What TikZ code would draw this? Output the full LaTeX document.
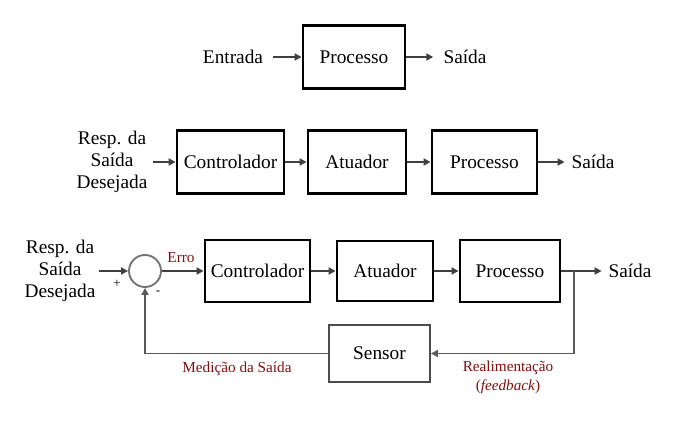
\documentclass[tikz,border=0pt]{standalone}
\usepackage{fontspec}
\setmainfont{Liberation Serif}
\usetikzlibrary{arrows.meta}
\definecolor{lblred}{RGB}{128,16,16}
\tikzset{
  blk/.style={draw=black, line width=2.4pt, minimum height=1.89cm, font=\fontsize{16.5}{19}\selectfont},
  txt/.style={inner sep=0pt, align=center, font=\fontsize{16.5}{18.7}\selectfont},
  flow/.style={-{Triangle[length=6pt,width=6pt]}, draw=black!75, line width=2pt},
  fb/.style={-{Triangle[length=6pt,width=6pt]}, draw=black!65, line width=1.6pt},
  redlbl/.style={text=lblred, inner sep=0pt, align=center, font=\fontsize{13}{16.2}\selectfont}
}
\begin{document}
\begin{tikzpicture}[x=0.03cm, y=-0.03cm]
		\useasboundingbox (0,0) rectangle (688,421);

		% open loop, one block
		\node[blk, minimum width=3.06cm] (proc1) at (354,57) {Processo};
		\node[txt] (in1) at (233,57) {Entrada};
		\node[txt] (out1) at (465,57) {Saída};
		\draw[flow] ([xshift=0.3cm]in1.east) -- (proc1.west);
		\draw[flow] (proc1.east) -- ([xshift=-0.3cm]out1.west);

		% open loop, three blocks
		\node[txt] (in2) at (112,162) {Resp. da\\Saída\\Desejada};
		\node[blk, minimum width=3.21cm] (ctrl2) at (230.5,162) {Controlador};
		\node[blk, minimum width=2.94cm] (act2) at (357,162) {Atuador};
		\node[blk, minimum width=3.15cm] (proc2) at (484.5,162) {Processo};
		\node[txt] (out2) at (593,162) {Saída};
		\draw[flow] ([xshift=0.15cm]in2.east) -- (ctrl2.west);
		\draw[flow] (ctrl2.east) -- (act2.west);
		\draw[flow] (act2.east) -- (proc2.west);
		\draw[flow] (proc2.east) -- ([xshift=-0.2cm]out2.west);

		% closed loop
		\node[txt] (in3) at (60,271) {Resp. da\\Saída\\Desejada};
		\node[circle, draw=black!55, line width=1.6pt, minimum size=0.96cm, inner sep=0pt] (sum) at (145,271) {};
		\node[blk, minimum width=3.15cm, minimum height=1.86cm] (ctrl3) at (257.5,271) {Controlador};
		\node[blk, minimum width=2.88cm, minimum height=1.8cm] (act3) at (385,271) {Atuador};
		\node[blk, minimum width=3cm, minimum height=1.86cm] (proc3) at (510,271) {Processo};
		\node[txt] (out3) at (630,271) {Saída};
		\node[draw=black!70, line width=1.6pt, minimum width=3.03cm, minimum height=1.71cm, font=\fontsize{16.5}{19}\selectfont] (sen) at (379.5,353.5) {Sensor};
		\coordinate (br) at (574,271);

		\draw[flow] ([xshift=0.1cm]in3.east) -- (sum.west);
		\draw[flow] (sum.east) -- (ctrl3.west);
		\draw[flow] (ctrl3.east) -- (act3.west);
		\draw[flow] (act3.east) -- (proc3.west);
		\draw[flow] (proc3.east) -- ([xshift=-0.2cm]out3.west);
		\draw[fb] (br) |- (sen.east);
		\draw[fb] (sen.west) -| (sum.south);

		\node[redlbl] (erro) at (181,258) {Erro};
		\node[redlbl] (med) at (237,369) {Medição da Saída};
		\node[redlbl] (real) at (508,377) {Realimentação\\(\textit{feedback})};
		\node[font=\fontsize{11}{13}\selectfont, inner sep=0pt] (plus) at (117,284) {+};
		\node[font=\fontsize{11}{13}\selectfont, inner sep=0pt] (minus) at (158,293) {-};
	\end{tikzpicture}
\end{document}
